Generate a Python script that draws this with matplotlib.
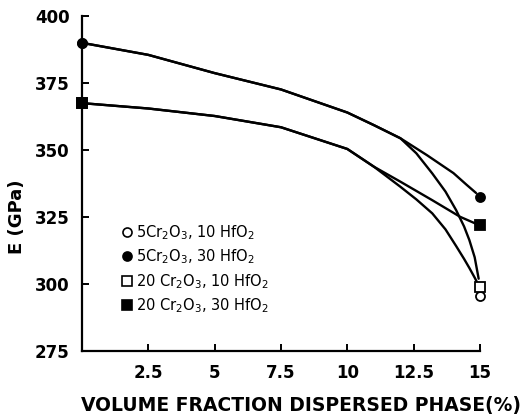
import matplotlib
matplotlib.use("Agg")
import matplotlib.pyplot as plt
from matplotlib.lines import Line2D

# Series labels (composition, vol%)
labels = [r"5Cr$_2$O$_3$, 10 HfO$_2$",
          r"5Cr$_2$O$_3$, 30 HfO$_2$",
          r"20 Cr$_2$O$_3$, 10 HfO$_2$",
          r"20 Cr$_2$O$_3$, 30 HfO$_2$"]
markers = ["o", "o", "s", "s"]
filled = [False, True, False, True]

# Measured points (x = 0 and x = 15)
pt_x = [0, 15]
pt_5_10 = [390, 295.5]
pt_5_30 = [390, 332.6]
pt_20_10 = [367.5, 299]
pt_20_30 = [367.5, 322]

# Fitted curves
cx_5_10 = [0, 2.5, 5, 7.5, 10, 11, 12, 12.6, 13.2, 13.7, 14.1, 14.4, 14.6, 14.8, 14.95]
cy_5_10 = [390, 385.5, 378.7, 372.6, 364, 359.3, 354.4, 348.8, 341.3, 334.5, 327.6, 321.5, 316.4, 310, 302]
cx_5_30 = [0, 2.5, 5, 7.5, 10, 11, 12, 13, 14, 14.5, 14.85]
cy_5_30 = [390, 385.5, 378.7, 372.6, 364, 359.3, 354.4, 348.1, 341.4, 337, 334]
cx_20_10 = [0, 2.5, 5, 7.5, 10, 11, 12, 12.6, 13.2, 13.7, 14.1, 14.4, 14.6, 14.8, 14.95]
cy_20_10 = [367.5, 365.5, 362.7, 358.5, 350.4, 343.8, 336.3, 331.6, 326.4, 320.4, 314.2, 309.4, 306.0, 302.4, 299.5]
cx_20_30 = [0, 2.5, 5, 7.5, 10, 11, 12, 13.2, 14.25, 14.85]
cy_20_30 = [367.5, 365.5, 362.7, 358.5, 350.4, 343.8, 338.2, 331.3, 325.1, 322.5]

xticks = [2.5, 5, 7.5, 10, 12.5, 15]
xticklabels = ["2.5", "5", "7.5", "10", "12.5", "15"]
yticks = [275, 300, 325, 350, 375, 400]

fig = plt.figure(figsize=(5.24, 4.15), dpi=100)
ax = fig.add_axes([0.1565, 0.154, 0.7595, 0.8074])

# curves
for cx, cy in [(cx_5_10, cy_5_10), (cx_5_30, cy_5_30),
               (cx_20_10, cy_20_10), (cx_20_30, cy_20_30)]:
    ax.plot(cx, cy, color="black", lw=1.7, solid_capstyle="round",
            solid_joinstyle="round", zorder=2)

# points: open first so filled ones sit on top at x = 0
for ys, m, f in [(pt_5_10, "o", False), (pt_20_10, "s", False),
                 (pt_5_30, "o", True), (pt_20_30, "s", True)]:
    ax.plot(pt_x, ys, linestyle="none", marker=m, markersize=6.5,
            markerfacecolor="black" if f else "white",
            markeredgecolor="black", markeredgewidth=1.3,
            clip_on=False, zorder=3)

ax.set_xlim(0, 15)
ax.set_ylim(275, 400)
ax.set_xticks(xticks)
ax.set_xticklabels(xticklabels)
ax.set_yticks(yticks)
ax.spines["top"].set_visible(False)
ax.spines["right"].set_visible(False)
for s in ["left", "bottom"]:
    ax.spines[s].set_linewidth(1.6)
ax.tick_params(direction="in", length=5, width=1.4, labelsize=12, pad=9)
for t in ax.get_xticklabels() + ax.get_yticklabels():
    t.set_fontweight("bold")

ax.set_ylabel("E (GPa)", fontsize=13, fontweight="bold")
ax.yaxis.set_label_coords(-0.14, 0.40)
ax.set_xlabel("VOLUME FRACTION DISPERSED PHASE(%)", fontsize=13.5,
              fontweight="bold")
ax.xaxis.set_label_coords(0.55, -0.135)

handles = [Line2D([], [], linestyle="none", marker=m, markersize=6.5,
                  markerfacecolor="black" if f else "white",
                  markeredgecolor="black", markeredgewidth=1.2)
           for m, f in zip(markers, filled)]
ax.legend(handles, labels, loc="upper left", bbox_to_anchor=(0.08, 0.40),
          frameon=False, fontsize=10.5, handletextpad=0.1, handlelength=1.0,
          labelspacing=0.4, borderaxespad=0)

fig.savefig("out.png", dpi=100)
